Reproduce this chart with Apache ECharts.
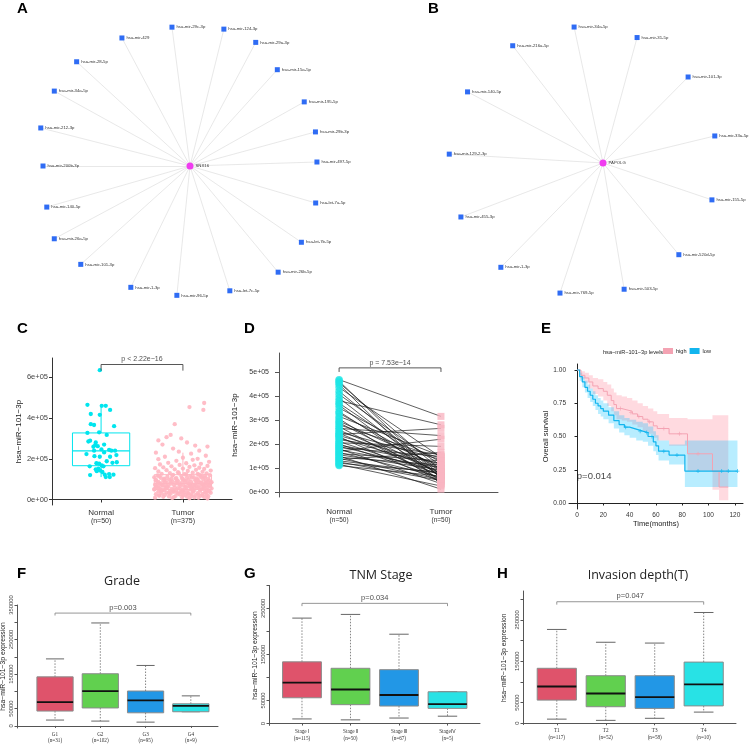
<!DOCTYPE html>
<html><head><meta charset="utf-8">
<script src="https://cdn.jsdelivr.net/npm/echarts@6/dist/echarts.min.js"></script>
<style>html,body{margin:0;padding:0;background:#fff}#c{width:750px;height:746px}</style>
</head><body><div id="c"></div>
<script>
// ---------- Panel A: network (hub + miRNAs), angle in degrees (counter-clockwise from east), radius relative ----------
const hubA = 'SNX16';
const mirA = ['hsa-mir-29c-3p','hsa-mir-124-3p','hsa-mir-29a-3p','hsa-mir-15a-5p','hsa-mir-195-5p','hsa-mir-29b-3p','hsa-mir-497-5p','hsa-let-7a-5p','hsa-let-7b-5p','hsa-mir-26b-5p','hsa-let-7c-5p','hsa-mir-96-5p','hsa-mir-1-3p','hsa-mir-101-3p','hsa-mir-26a-5p','hsa-mir-140-5p','hsa-mir-200b-3p','hsa-mir-212-3p','hsa-mir-34a-5p','hsa-mir-28-5p','hsa-mir-429'];
const angA = [97.4,76.1,62.0,47.8,29.3,15.2,1.8,343.6,325.6,309.7,287.7,264.2,244.0,222.0,208.2,196.0,180.0,165.7,151.1,137.4,118.0];
const radA = [140,141,140,130,131,130,127,131,135,138,131,130,135,147,154,149,147,154,155,154,145];

// ---------- Panel B ----------
const hubB = 'PAPOLG';
const mirB = ['hsa-mir-34a-5p','hsa-mir-31-5p','hsa-mir-101-3p','hsa-mir-33a-5p','hsa-mir-155-5p','hsa-mir-520d-5p','hsa-mir-503-5p','hsa-mir-769-5p','hsa-mir-1-3p','hsa-mir-455-3p','hsa-mir-129-2-3p','hsa-mir-140-5p','hsa-mir-216a-5p'];
const angB = [102.0,74.8,45.3,13.6,341.3,309.6,279.5,251.7,225.6,200.8,176.7,152.3,127.6];
const radB = [139,130,121,115,115,119,128,137,146,152,154,153,148];

// ---------- Panel C: expression (values in units of 1e4), jitter offset in category units ----------
const groupsC = ['Normal','Tumor'];
const countsC = ['(n=50)','(n=375)'];
const boxC = [[11,16.6,23.9,32.7,46.5],[0.5,4.9,7.8,12.2,23]]; // lo,q1,med,q3,hi (1e4)
const normalC = [[-0.016,63.5],[-0.167,46.5],[0.008,46],[0.057,46],[-0.126,42],[0.110,44],[-0.016,41.6],[-0.126,37],[-0.086,36.6],[0.159,36],[-0.024,33],[-0.167,32.7],[0.069,31.7],[-0.134,28.9],[-0.065,28],[-0.073,26.7],[-0.041,26.2],[-0.094,25.9],[0.004,24.6],[0.098,24.4],[0.126,24],[0.171,24],[-0.179,22.3],[0.037,23.1],[0.187,21.8],[-0.081,21.3],[-0.016,21.0],[0.110,21],[0.069,18.8],[-0.139,16.3],[-0.057,17.8],[-0.024,17.6],[0.008,16.7],[0.029,16.3],[0.192,18.3],[-0.033,15.2],[-0.053,13.9],[-0.012,14.2],[0.016,13.5],[-0.134,12],[0.045,12.2],[0.098,12.5],[0.151,12.2],[0.057,11],[0.106,11],[-0.065,14.8],[0.139,18],[-0.086,24],[-0.155,28.5],[0.037,27]];
const tumorC = [[0.26,47.4],[0.08,45.4],[0.25,44],[-0.1,37],[-0.15,31.7],[-0.2,30.6],[-0.02,30],[-0.3,29],[0.15,26.5],[-0.25,27],[0.05,28],[0.3,26],[-0.12,25],[0.2,24],[-0.33,23],[0.1,22.5],[-0.05,23.5],[0.28,21.5],[-0.22,21],[0.0,20.5],[0.18,20],[-0.3,19.8],[0.12,19.5],[-0.08,19],
[0.32,18.5],[-0.18,18],[0.04,17.8],[0.22,17.5],[-0.28,17.2],[-0.04,17],[0.14,16.8],[0.3,16.5],[-0.14,16.3],[0.08,16],[-0.24,15.8],[0.2,15.6],[-0.34,15.4],[0.0,15.2],[0.26,15],[-0.1,14.8],[0.16,14.6],[-0.2,14.4],[0.34,14.2],[0.06,14],[-0.3,13.8],[0.24,13.6],[-0.06,13.4],[0.12,13.2],[-0.16,13],
[0.29,12.8],[-0.26,12.6],[0.02,12.4],[0.19,12.2],[-0.12,12.1],[0.33,11.9],[-0.31,11.8],[0.09,11.6],[-0.02,11.5],[0.23,11.3],[-0.19,11.2],[0.13,11.0],[-0.35,10.9],[0.05,10.8],[0.27,10.6],[-0.08,10.5],[0.17,10.4],[-0.23,10.3],[0.31,10.2],[-0.14,10.1],[0.0,10.0],[0.21,12.0],[-0.29,11.4],[0.11,10.7],[-0.05,12.9],
[0.25,9.9],[-0.17,9.8],[0.07,9.7],[-0.33,9.6],[0.15,9.5],[-0.07,9.4],[0.32,9.3],[-0.24,9.2],[0.03,9.1],[0.19,9.0],[-0.13,8.9],[0.28,8.8],[-0.3,8.7],[0.1,8.6],[-0.01,8.5],[0.22,8.4],[-0.2,8.3],[0.34,8.2],[-0.09,8.1],[0.06,8.0],[-0.27,7.9],[0.16,7.8],[-0.15,7.7],[0.3,7.6],[-0.04,7.5],[0.12,7.4],[-0.34,7.3],[0.24,7.2],[-0.11,7.1],[0.01,7.0],[0.18,9.6],[-0.22,8.6],[0.27,7.9],[-0.06,9.0],[0.09,7.3],
[-0.25,6.9],[0.2,6.8],[-0.03,6.7],[0.33,6.6],[-0.18,6.5],[0.08,6.4],[-0.32,6.3],[0.14,6.2],[0.26,6.1],[-0.1,6.0],[0.04,5.9],[-0.21,5.8],[0.3,5.7],[-0.06,5.6],[0.17,5.5],[-0.28,5.4],[0.11,5.3],[-0.14,5.2],[0.23,5.1],[0.0,5.0],[-0.35,4.9],[0.29,4.8],[-0.08,4.7],[0.13,4.6],[-0.23,4.5],[0.06,4.4],[0.21,4.3],[-0.16,4.2],[0.32,4.1],[-0.02,4.0],[0.16,6.6],[-0.3,5.9],[0.25,5.2],[-0.12,4.6],[0.03,6.2],[0.35,5.4],[-0.2,6.7],[0.1,4.9],[-0.27,4.3],[0.19,5.8],
[-0.3,3.9],[0.12,3.8],[-0.11,3.7],[0.27,3.6],[0.02,3.5],[-0.2,3.4],[0.34,3.3],[-0.07,3.2],[0.18,3.1],[-0.26,3.0],[0.07,2.9],[-0.15,2.8],[0.24,2.7],[-0.33,2.6],[0.1,2.5],[-0.04,2.4],[0.29,2.3],[-0.22,2.2],[0.15,2.1],[0.0,2.0],[-0.29,1.9],[0.21,1.8],[-0.09,1.7],[0.31,1.6],[-0.17,1.5],[0.05,1.4],[-0.24,1.3],[0.26,1.2],[-0.01,1.1],[0.14,1.0],[-0.34,0.9],[0.19,0.8],[-0.13,0.7],[0.08,0.6],[0.3,0.5],
[0.02,9.3],[-0.19,6.1],[0.28,3.4],[-0.31,8.0],[0.11,5.6],[-0.06,2.9],[0.22,10.9],[-0.25,4.7],[0.07,7.6],[-0.13,11.7],[0.33,6.9],[-0.02,3.6],[0.17,8.9],[-0.35,5.1],[0.24,1.9],[-0.09,10.2],[0.13,4.0],[-0.28,7.4],[0.04,12.3],[0.30,9.0],[-0.17,3.1],[0.09,6.3],[-0.22,9.9],[0.19,2.4],[-0.04,5.3],[0.27,11.6],[-0.33,6.0],[0.14,7.1],[-0.11,1.2],[0.35,8.5],[-0.27,10.6],[0.06,3.0],[0.21,5.0],[-0.15,8.4],[0.01,4.4],[-0.29,2.0],[0.25,6.5],[-0.07,7.8],[0.16,9.8],[-0.2,5.5],[0.32,3.9],[-0.01,10.4],[0.10,1.6],[-0.24,6.8],[0.29,7.0],[-0.12,4.1],[0.18,12.6],[-0.33,9.4],[0.03,2.2],[0.23,8.1]];
const pC = 'p < 2.22e\u221216';

// ---------- Panel D: paired samples (1e4) ----------
const groupsD = ['Normal','Tumor'];
const countsD = ['(n=50)','(n=50)'];
const normalD = [46.8,46.2,45.5,44.8,43.5,42.0,40.6,39.2,38.0,37.0,36.2,35.0,33.5,32.8,31.5,30.5,29.5,28.8,28.0,27.2,26.5,25.8,25.0,24.5,24.0,23.5,23.0,22.5,21.8,21.0,20.5,20.0,19.5,19.0,18.5,18.0,17.5,17.0,16.5,16.0,15.5,15.0,14.5,14.0,13.5,13.0,12.5,12.0,11.5,11.0];
const tumorD  = [31.5,5.5,9.0,3.2,14.5,7.0,11.0,6.0,28.0,8.5,4.5,12.5,6.5,9.5,15.0,3.8,10.5,7.5,14.0,5.0,23.5,8.0,13.5,6.8,26.5,11.5,4.2,9.8,15.5,7.2,19.0,5.8,12.0,8.8,14.8,3.5,10.0,22.0,6.2,13.0,9.2,1.2,11.2,5.2,16.5,7.8,4.8,8.2,2.5,6.6];
const pD = 'p = 7.53e\u221214';

// ---------- Panel E: Kaplan-Meier ----------
const highT = [0,3,6,9,12,16,20,23,26,28,30,34,38,42,46,50,54,58,61,70,84,103,108,115];
const highS = [1.00,0.96,0.94,0.91,0.88,0.86,0.84,0.81,0.77,0.74,0.71,0.70,0.69,0.67,0.65,0.63,0.61,0.58,0.56,0.52,0.37,0.24,0.12,0.12];
const highU = [1.00,0.99,0.98,0.96,0.94,0.93,0.91,0.89,0.86,0.83,0.81,0.80,0.79,0.77,0.75,0.73,0.71,0.69,0.67,0.64,0.63,0.66,0.66,0.66];
const highL = [1.00,0.93,0.90,0.86,0.82,0.80,0.77,0.73,0.69,0.66,0.63,0.62,0.61,0.59,0.57,0.54,0.52,0.49,0.47,0.43,0.24,0.10,0.02,0.02];
const lowT = [0,2,4,6,8,10,12,14,16,18,20,24,28,32,36,40,45,50,54,58,60,62,70,82,122];
const lowS = [1.00,0.95,0.91,0.87,0.84,0.81,0.78,0.75,0.73,0.71,0.69,0.66,0.62,0.59,0.57,0.555,0.54,0.53,0.50,0.46,0.43,0.39,0.36,0.24,0.24];
const lowU = [1.00,0.98,0.95,0.92,0.89,0.86,0.84,0.81,0.79,0.77,0.75,0.72,0.69,0.66,0.64,0.625,0.61,0.60,0.575,0.54,0.51,0.47,0.44,0.47,0.47];
const lowL = [1.00,0.92,0.87,0.83,0.79,0.76,0.73,0.70,0.67,0.65,0.63,0.60,0.56,0.53,0.51,0.49,0.47,0.46,0.43,0.39,0.36,0.32,0.29,0.12,0.12];
const highCens = [[33,0.71],[41,0.68],[47,0.65],[55,0.61],[66,0.56],[78,0.52],[92,0.37]];
const lowCens = [[37,0.57],[48,0.54],[53,0.53],[57,0.50],[66,0.39],[76,0.36],[92,0.24],[110,0.24],[115,0.24],[122,0.24]];
const pE = 'p=0.014';

// ---------- Panels F, G, H: boxplots (lo, q1, median, q3, hi) ----------
const catF = ['G1','G2','G3','G4'];  const nF = ['(n=31)','(n=102)','(n=95)','(n=9)'];
const boxF = [[17000,43000,69000,142000,194000],[14000,52000,101000,151000,298000],[11000,38000,74000,101000,175000],[41000,41000,58000,64000,87000]];
const catG = ['Stage \u2160','Stage \u2161','Stage \u2162','Stage\u2163']; const nG = ['(n=115)','(n=50)','(n=67)','(n=5)'];
const boxG = [[10000,56000,89000,134000,229000],[8000,41000,74000,120000,237000],[12000,38000,62000,117000,194000],[16000,33000,42000,69000,69000]];
const catH = ['T1','T2','T3','T4']; const nH = ['(n=117)','(n=52)','(n=58)','(n=10)'];
const boxH = [[10000,56000,89000,133000,227000],[7000,40000,72000,115000,196000],[12000,36000,63000,115000,194000],[27000,42000,94000,148000,268000]];
const pF = 'p=0.003', pG = 'p=0.034', pH = 'p=0.047';

// ================= build =================
const FONT = 'Liberation Sans';
const boxColors = ['#DF536B','#61D04F','#2297E6','#28E2E5'];

function buildNet(hub, names, ang, rad) {
  const nodes = [{name: hub, value: [0, 0], symbol: 'circle', symbolSize: 7, itemStyle: {color: '#F03CF0'}}];
  names.forEach((n, i) => nodes.push({name: n, value: [rad[i], ang[i]], symbol: 'rect', symbolSize: 5, itemStyle: {color: '#2F6CF4'}}));
  const links = names.map(n => ({source: hub, target: n}));
  return {nodes, links};
}
function netSeries(net, pi) {
  return {type: 'graph', coordinateSystem: 'polar', polarIndex: pi, layout: 'none', roam: false, silent: true,
    data: net.nodes, links: net.links,
    lineStyle: {color: '#DEDEDE', width: 0.7, opacity: 1},
    label: {show: true, position: 'right', distance: 2, fontSize: 4.3, color: '#333', fontFamily: FONT},
    emphasis: {disabled: true}};
}

function makeBox(cfg) {
  return function (params, api) {
    const x = api.value(0), lo = api.value(1), q1 = api.value(2), md = api.value(3), q3 = api.value(4), hi = api.value(5);
    const col = cfg.colors[params.dataIndex];
    const a = api.coord([x - cfg.half, q3]), b = api.coord([x + cfg.half, q1]);
    const m1 = api.coord([x - cfg.half, md]), m2 = api.coord([x + cfg.half, md]);
    const c = api.coord([x, q3]), top = api.coord([x, hi]), d = api.coord([x, q1]), bot = api.coord([x, lo]);
    const wStyle = {stroke: cfg.whisker || col, lineWidth: cfg.wLw, lineDash: cfg.dash || null};
    const ch = [
      {type: 'line', shape: {x1: c[0], y1: c[1], x2: top[0], y2: top[1]}, style: wStyle},
      {type: 'line', shape: {x1: d[0], y1: d[1], x2: bot[0], y2: bot[1]}, style: wStyle}
    ];
    if (cfg.cap) {
      const t1 = api.coord([x - cfg.cap, hi]), t2 = api.coord([x + cfg.cap, hi]);
      const b1 = api.coord([x - cfg.cap, lo]), b2 = api.coord([x + cfg.cap, lo]);
      ch.push({type: 'line', shape: {x1: t1[0], y1: t1[1], x2: t2[0], y2: t2[1]}, style: {stroke: cfg.whisker, lineWidth: 1}});
      ch.push({type: 'line', shape: {x1: b1[0], y1: b1[1], x2: b2[0], y2: b2[1]}, style: {stroke: cfg.whisker, lineWidth: 1}});
    }
    ch.push({type: 'rect', shape: {x: a[0], y: a[1], width: b[0] - a[0], height: b[1] - a[1]}, style: {fill: cfg.fill || col, stroke: cfg.border || col, lineWidth: cfg.bLw}});
    ch.push({type: 'line', shape: {x1: m1[0], y1: m1[1], x2: m2[0], y2: m2[1]}, style: {stroke: cfg.median || col, lineWidth: cfg.mLw}});
    return {type: 'group', children: ch};
  };
}

// confidence band of a step curve, drawn as one polygon through the axis scales
function bandRender(T, L, U, color) {
  return function (params, api) {
    if (params.dataIndex !== 0) return null;
    const pts = [];
    for (let i = 0; i < T.length; i++) {
      const tn = i < T.length - 1 ? T[i + 1] : T[i];
      pts.push(api.coord([T[i], U[i]])); pts.push(api.coord([tn, U[i]]));
    }
    for (let i = T.length - 1; i >= 0; i--) {
      const tn = i < T.length - 1 ? T[i + 1] : T[i];
      pts.push(api.coord([tn, L[i]])); pts.push(api.coord([T[i], L[i]]));
    }
    return {type: 'polygon', shape: {points: pts}, style: {fill: color}};
  };
}

function textPoint(xi, yi, pt, text, size, pos, color) {
  return {type: 'scatter', xAxisIndex: xi, yAxisIndex: yi, silent: true, symbolSize: 1, itemStyle: {color: 'rgba(0,0,0,0)'},
    data: [pt], label: {show: true, position: pos || 'top', distance: 1, formatter: text, fontSize: size, color: color || '#222', fontFamily: FONT}};
}
function bracket(xi, yi, x1, x2, y, dy, color) {
  return {type: 'line', xAxisIndex: xi, yAxisIndex: yi, silent: true, symbol: 'none', lineStyle: {color: color, width: 0.9},
    data: [[x1, y - dy], [x1, y], [x2, y], [x2, y - dy]]};
}

const series = [];
series.push(netSeries(buildNet(hubA, mirA, angA, radA), 0));
series.push(netSeries(buildNet(hubB, mirB, angB, radB), 1));

// C
const colC = ['#00E5EE', '#FFB6C1'];
series.push({type: 'custom', xAxisIndex: 0, yAxisIndex: 0, silent: true,
  renderItem: makeBox({colors: colC, half: 0.35, wLw: 1, bLw: 1, mLw: 1.1, fill: '#fff'}),
  encode: {x: 0, y: [1, 2, 3, 4, 5]},
  data: boxC.map((b, i) => [i + 1].concat(b.map(v => v * 1e4)))});
series.push({type: 'scatter', xAxisIndex: 0, yAxisIndex: 0, silent: true, symbolSize: 4.3, itemStyle: {color: colC[0], opacity: 1},
  data: normalC.map(p => [1 + p[0], p[1] * 1e4])});
series.push({type: 'scatter', xAxisIndex: 0, yAxisIndex: 0, silent: true, symbolSize: 4.3, itemStyle: {color: colC[1], opacity: 0.9},
  data: tumorC.map(p => [2 + p[0], p[1] * 1e4])});
series.push(bracket(0, 0, 1, 2, 663000, 30000, '#444'));
series.push(textPoint(0, 0, [1.5, 663000], pC, 7, 'top'));

// D
series.push({type: 'lines', coordinateSystem: 'cartesian2d', xAxisIndex: 1, yAxisIndex: 1, silent: true,
  lineStyle: {color: '#1a1a1a', width: 0.7, opacity: 1},
  data: normalD.map((v, i) => ({coords: [[1, v * 1e4], [2, tumorD[i] * 1e4]]}))});
series.push({type: 'scatter', xAxisIndex: 1, yAxisIndex: 1, silent: true, symbol: 'circle', symbolSize: 7.5, itemStyle: {color: '#1EE6E6'},
  data: normalD.map(v => [1, v * 1e4])});
series.push({type: 'scatter', xAxisIndex: 1, yAxisIndex: 1, silent: true, symbol: 'rect', symbolSize: [7, 7], itemStyle: {color: '#F9B5C2'},
  data: tumorD.map(v => [2, v * 1e4])});
series.push(bracket(1, 1, 1, 2, 517000, 17000, '#444'));
series.push(textPoint(1, 1, [1.5, 517000], pD, 7, 'top'));

// E
function pairs(T, V) { return T.map((t, i) => [t, V[i]]); }
const pinkLine = '#F4A3B3', pinkBand = 'rgba(255,182,193,0.5)';
const blueLine = '#12B5EE', blueBand = 'rgba(0,191,255,0.28)';
series.push({type: 'custom', xAxisIndex: 2, yAxisIndex: 2, silent: true, renderItem: bandRender(highT, highL, highU, pinkBand),
  encode: {x: 0, y: [1, 2]}, data: highT.map((t, i) => [t, highL[i], highU[i]])});
series.push({type: 'custom', xAxisIndex: 2, yAxisIndex: 2, silent: true, renderItem: bandRender(lowT, lowL, lowU, blueBand),
  encode: {x: 0, y: [1, 2]}, data: lowT.map((t, i) => [t, lowL[i], lowU[i]])});
series.push({name: 'high', type: 'line', xAxisIndex: 2, yAxisIndex: 2, silent: true, step: 'end', symbol: 'none', itemStyle: {color: pinkLine}, lineStyle: {color: pinkLine, width: 1}, data: pairs(highT, highS)});
series.push({name: 'low', type: 'line', xAxisIndex: 2, yAxisIndex: 2, silent: true, step: 'end', symbol: 'none', itemStyle: {color: blueLine}, lineStyle: {color: blueLine, width: 1.2}, data: pairs(lowT, lowS)});
const plusPath = 'path://M4,0h2v4h4v2h-4v4h-2v-4h-4v-2h4z';
series.push({type: 'scatter', xAxisIndex: 2, yAxisIndex: 2, silent: true, symbol: plusPath, symbolSize: 4, itemStyle: {color: pinkLine}, data: highCens});
series.push({type: 'scatter', xAxisIndex: 2, yAxisIndex: 2, silent: true, symbol: plusPath, symbolSize: 4, itemStyle: {color: blueLine}, data: lowCens});
series.push(textPoint(2, 2, [13, 0.2], pE, 9.5, 'inside', '#111'));

// F G H
const fghCfg = {colors: boxColors, half: 0.4, cap: 0.2, wLw: 0.8, dash: [1.5, 1.5], whisker: '#666', border: '#8a8a8a', bLw: 1, mLw: 1.8, median: '#111'};
[[boxF, 3], [boxG, 4], [boxH, 5]].forEach(([bx, gi]) => {
  series.push({type: 'custom', xAxisIndex: gi, yAxisIndex: gi, silent: true, renderItem: makeBox(fghCfg),
    encode: {x: 0, y: [1, 2, 3, 4, 5]}, data: bx.map((b, i) => [i + 1].concat(b))});
});
series.push(bracket(3, 3, 1, 4, 326600, 7000, '#8a8a8a'));
series.push(textPoint(3, 3, [2.5, 326600], pF, 7.5, 'top'));
series.push(bracket(4, 4, 1, 4, 261000, 6000, '#8a8a8a'));
series.push(textPoint(4, 4, [2.5, 261000], pG, 7.5, 'top'));
series.push(bracket(5, 5, 1, 4, 294000, 7000, '#8a8a8a'));
series.push(textPoint(5, 5, [2.5, 294000], pH, 7.5, 'top'));

// ---------- axes ----------
const sciFmt = v => v === 0 ? '0e+00' : (Math.round(v / 1e5)) + 'e+05';
function twoLine(names, counts, big, small, color) {
  return {
    formatter: v => { const i = Math.round(v) - 1; return '{a|' + names[i] + '}\n{b|' + counts[i] + '}'; },
    rich: {a: {fontSize: big, color: color, fontFamily: FONT, lineHeight: big + 1}, b: {fontSize: small, color: color, fontFamily: FONT, lineHeight: small + 2}}
  };
}
const axLine = c => ({show: true, lineStyle: {color: c, width: 1}});

const grids = [
  {left: 52, top: 358, width: 180, height: 147},
  {left: 279, top: 353, width: 219, height: 144},
  {left: 569, top: 364, width: 174, height: 145},
  {left: 17, top: 605, width: 201, height: 123},
  {left: 269, top: 585.4, width: 211, height: 140},
  {left: 523, top: 591, width: 213, height: 133.5}
].map(g => Object.assign(g, {outerBoundsMode: 'none', containLabel: false}));

const xAxis = [
  Object.assign({gridIndex: 0, type: 'value', min: 0.4, max: 2.6, splitLine: {show: false}, axisLine: axLine('#333'),
    axisTick: {show: true, customValues: [1, 2], length: 3, lineStyle: {color: '#333'}},
    axisLabel: Object.assign({customValues: [1, 2], margin: 3}, twoLine(groupsC, countsC, 8, 7, '#333'))}),
  Object.assign({gridIndex: 1, type: 'value', min: 0.41, max: 2.56, splitLine: {show: false}, axisLine: axLine('#555'),
    axisTick: {show: false},
    axisLabel: Object.assign({customValues: [1, 2], margin: 10}, twoLine(groupsD, countsD, 8, 6.5, '#333'))}),
  {gridIndex: 2, type: 'value', min: -6.1, max: 126.2, splitLine: {show: false}, axisLine: axLine('#222'),
    axisTick: {show: true, customValues: [0, 20, 40, 60, 80, 100, 120], length: 2.5, lineStyle: {color: '#222'}},
    axisLabel: {customValues: [0, 20, 40, 60, 80, 100, 120], fontSize: 6.5, color: '#333', margin: 3, fontFamily: FONT},
    name: 'Time(months)', nameLocation: 'middle', nameGap: 10, nameTextStyle: {fontSize: 7.5, color: '#222', fontFamily: FONT}}
];
const fghX = (gi, min, max, cats, ns) => ({gridIndex: gi, type: 'value', min: min, max: max, splitLine: {show: false}, axisLine: axLine('#555'),
  axisTick: {show: true, customValues: [1, 2, 3, 4], length: 2, lineStyle: {color: '#555'}},
  axisLabel: Object.assign({customValues: [1, 2, 3, 4], margin: 3}, {
    formatter: v => { const i = Math.round(v) - 1; return cats[i] + '\n' + ns[i]; },
    fontSize: 5.2, lineHeight: 6.5, color: '#333', fontFamily: 'Liberation Serif'})});
xAxis.push(fghX(3, 0.16, 4.6, catF, nF));
xAxis.push(fghX(4, 0.32, 4.67, catG, nG));
xAxis.push(fghX(5, 0.31, 4.66, catH, nH));

const yAxis = [
  {gridIndex: 0, type: 'value', min: -27000, max: 695000, splitLine: {show: false}, axisLine: axLine('#333'),
    axisTick: {show: true, customValues: [0, 200000, 400000, 600000], length: 3, lineStyle: {color: '#333'}},
    axisLabel: {customValues: [0, 200000, 400000, 600000], formatter: sciFmt, fontSize: 7.5, color: '#444', margin: 4, fontFamily: FONT},
    name: 'hsa\u2212miR\u2212101\u22123p', nameLocation: 'middle', nameGap: 24, nameRotate: 90, nameTextStyle: {fontSize: 8, color: '#222', fontFamily: FONT}},
  {gridIndex: 1, type: 'value', min: -20800, max: 579000, splitLine: {show: false}, axisLine: axLine('#555'),
    axisTick: {show: true, customValues: [0, 100000, 200000, 300000, 400000, 500000], length: 4, lineStyle: {color: '#555'}},
    axisLabel: {customValues: [0, 100000, 200000, 300000, 400000, 500000], formatter: sciFmt, fontSize: 7, color: '#333', margin: 10, fontFamily: FONT},
    name: 'hsa\u2212miR\u2212101\u22123p', nameLocation: 'middle', nameGap: 40, nameRotate: 90, nameTextStyle: {fontSize: 8, color: '#222', fontFamily: FONT}},
  {gridIndex: 2, type: 'value', min: -0.045, max: 1.045, splitLine: {show: false}, axisLine: axLine('#222'),
    axisTick: {show: true, customValues: [0, 0.25, 0.5, 0.75, 1], length: 2.5, lineStyle: {color: '#222'}},
    axisLabel: {customValues: [0, 0.25, 0.5, 0.75, 1], formatter: v => v.toFixed(2), fontSize: 6.5, color: '#333', margin: 3, fontFamily: FONT},
    name: 'Overall survival', nameLocation: 'middle', nameGap: 16, nameRotate: 90, nameTextStyle: {fontSize: 7.5, color: '#222', fontFamily: FONT}}
];
const hidden = [100000, 200000, 300000];
const fghY = (gi, min, max, ticks, gap) => ({gridIndex: gi, type: 'value', min: min, max: max, splitLine: {show: false}, axisLine: axLine('#555'),
  axisTick: {show: true, customValues: ticks, length: 2.5, lineStyle: {color: '#555'}},
  axisLabel: {customValues: ticks, rotate: 90, formatter: v => hidden.indexOf(v) >= 0 ? '' : String(v), fontSize: 5.8, color: '#444', margin: 3, fontFamily: FONT},
  name: 'hsa\u2212miR\u2212101\u22123p expression', nameLocation: 'middle', nameGap: gap, nameRotate: 90, nameTextStyle: {fontSize: 6.8, color: '#222', fontFamily: FONT}});
yAxis.push(fghY(3, -6000, 350000, [0, 50000, 100000, 150000, 200000, 250000, 300000, 350000], 10));
yAxis.push(fghY(4, -4000, 300000, [0, 50000, 100000, 150000, 200000, 250000, 300000], 10));
yAxis.push(fghY(5, -3000, 320000, [0, 50000, 100000, 150000, 200000, 250000, 300000], 15));

// ---------- texts: panel letters, titles ----------
const letter = (t, x, y) => ({type: 'text', left: x, top: y, style: {text: t, font: 'bold 15px "Liberation Sans"', fill: '#000'}});
const title = (t, cx, y) => ({type: 'text', x: cx, y: y, style: {text: t, font: '12.5px "Open Sans"', fill: '#222', textAlign: 'center', textVerticalAlign: 'top'}});
const graphic = [
  letter('A', 17, 1), letter('B', 428, 1), letter('C', 17, 321), letter('D', 244, 321), letter('E', 541, 321),
  letter('F', 17, 566), letter('G', 244, 566), letter('H', 497, 566),
  title('Grade', 122, 575), title('TNM Stage', 381, 569), title('Invasion depth(T)', 638, 569),
  {type: 'text', x: 603, y: 352, style: {text: 'hsa\u2212miR\u2212101\u22123p levels', font: '5.6px "Liberation Sans"', fill: '#222', textVerticalAlign: 'middle'}}
];

const option = {
  animation: false,
  textStyle: {fontFamily: FONT},
  polar: [{center: [190, 166], radius: 160}, {center: [603, 163], radius: 160}],
  angleAxis: [
    {polarIndex: 0, type: 'value', min: 0, max: 360, startAngle: 0, clockwise: false, show: false},
    {polarIndex: 1, type: 'value', min: 0, max: 360, startAngle: 0, clockwise: false, show: false}
  ],
  radiusAxis: [
    {polarIndex: 0, type: 'value', min: 0, max: 160, show: false},
    {polarIndex: 1, type: 'value', min: 0, max: 160, show: false}
  ],
  grid: grids, xAxis: xAxis, yAxis: yAxis,
  legend: {data: ['high', 'low'], left: 663, top: 348, padding: 0, itemWidth: 10, itemHeight: 6, itemGap: 3, icon: 'rect', selectedMode: false,
    textStyle: {fontSize: 5.6, color: '#222', fontFamily: FONT, padding: [0, 0, 0, -2]}},
  graphic: graphic,
  series: series
};
const chart = echarts.init(document.getElementById('c'), null, {renderer: 'canvas', width: 750, height: 746});
chart.setOption(option);
</script>
</body></html>
